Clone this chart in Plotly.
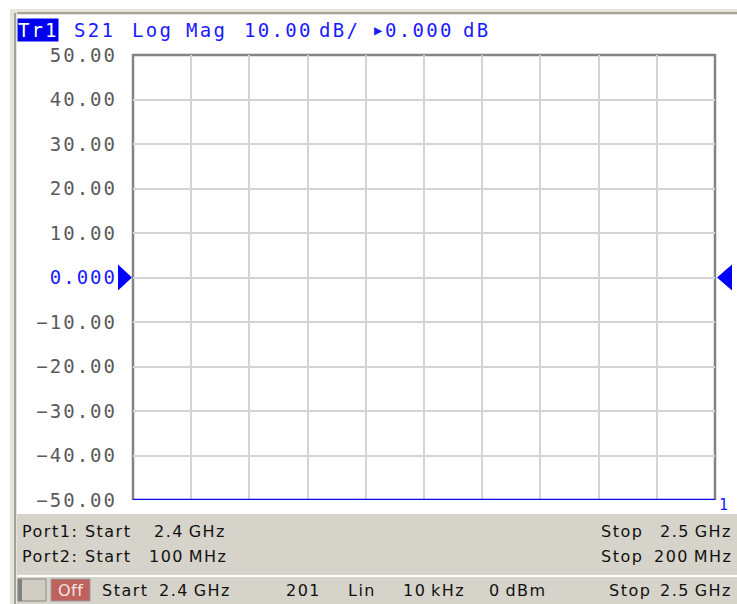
import plotly.graph_objects as go

# ---- measurement setup -------------------------------------------------
trace_name = "Tr1"
s_param = "S21"
fmt_name = "Log Mag"
scale_db_div = 10.00
ref_level_db = 0.000

start_ghz = 2.4
stop_ghz = 2.5
sweep_points = 201
sweep_type = "Lin"
ifbw = "10\u2009kHz"
power = "0\u2009dBm"

port1_start, port1_stop = "2.4\u2009GHz", "2.5\u2009GHz"
port2_start, port2_stop = "100\u2009MHz", "200\u2009MHz"

# trace: reading sits at the bottom of the display
trace_freq_ghz = [2.4, 2.5]
trace_db = [-50.0, -50.0]

y_tick_values = [50, 40, 30, 20, 10, 0, -10, -20, -30, -40, -50]
y_tick_labels = ["50.00", "40.00", "30.00", "20.00", "10.00", "0.000",
                 "\u221210.00", "\u221220.00", "\u221230.00", "\u221240.00",
                 "\u221250.00"]

# ---- page geometry -----------------------------------------------------
W, H = 737, 604
L, R, T, B = 133, 715, 55, 500   # plot area in page pixels

def px(x):
    return (x - L) / (R - L)

def py(y):
    return (B - y) / (B - T)

BLUE = "#1a1aff"
PANEL = "#d6d3cb"
GRID = "#d4d4d4"
BORDER = "#858585"
MONO = "DejaVu Sans Mono"
SANS = "DejaVu Sans"

def spaced(text, sp, color=None):
    style = f"letter-spacing:{sp}px"
    if color:
        style = f"color:{color};" + style
    return f'<span style="{style}">{text}</span>'

tick_text = [spaced(t, 2, BLUE if v == ref_level_db else None)
             for v, t in zip(y_tick_values, y_tick_labels)]

fig = go.Figure()
fig.add_trace(go.Scatter(
    x=trace_freq_ghz, y=trace_db, mode="lines",
    line=dict(color="#0a0af0", width=2.5), cliponaxis=False,
    hoverinfo="skip", showlegend=False,
))

shapes = []
# window frame (top and left)
shapes.append(dict(type="rect", xref="paper", yref="paper", layer="below",
                   x0=px(10), x1=px(737), y0=py(9), y1=py(15),
                   fillcolor="#e6e3dc", line=dict(width=0)))
shapes.append(dict(type="line", xref="paper", yref="paper", layer="below",
                   x0=px(15), x1=px(737), y0=py(13), y1=py(13),
                   line=dict(color="#a6a298", width=2)))
shapes.append(dict(type="rect", xref="paper", yref="paper", layer="below",
                   x0=px(10), x1=px(17), y0=py(9), y1=py(604),
                   fillcolor="#e6e3dc", line=dict(width=0)))
shapes.append(dict(type="line", xref="paper", yref="paper", layer="below",
                   x0=px(15), x1=px(15), y0=py(13), y1=py(604),
                   line=dict(color="#a6a298", width=2)))
# port info panel and status bar
shapes.append(dict(type="rect", xref="paper", yref="paper", layer="below",
                   x0=px(17), x1=px(737), y0=py(514), y1=py(575),
                   fillcolor=PANEL, line=dict(width=0)))
shapes.append(dict(type="rect", xref="paper", yref="paper", layer="below",
                   x0=px(17), x1=px(737), y0=py(577), y1=py(604),
                   fillcolor=PANEL, line=dict(width=0)))
# sunken indicator box
shapes.append(dict(type="rect", xref="paper", yref="paper",
                   x0=px(18), x1=px(46), y0=py(579), y1=py(601),
                   fillcolor="#d0ccc4", line=dict(color="#8a8780", width=1)))
shapes.append(dict(type="rect", xref="paper", yref="paper",
                   x0=px(18), x1=px(22), y0=py(579), y1=py(601),
                   fillcolor="#808080", line=dict(width=0)))
# "Off" state box
shapes.append(dict(type="rect", xref="paper", yref="paper",
                   x0=px(51), x1=px(90), y0=py(579), y1=py(601),
                   fillcolor="#bd625c", line=dict(color="#9a9a9a", width=1)))
# graticule border on left, top and right (trace forms the bottom edge)
shapes.append(dict(type="path", xref="paper", yref="paper",
                   path="M 0,0 L 0,1 L 1,1 L 1,0", layer="below",
                   line=dict(color=BORDER, width=2.5)))
# reference level arrows at both edges
shapes.append(dict(type="path", xref="paper", yref="y", xsizemode="pixel",
                   ysizemode="pixel", xanchor=0, yanchor=ref_level_db,
                   path="M -15,-13 L -1,0 L -15,13 Z",
                   fillcolor="#0000ff", line=dict(width=0)))
shapes.append(dict(type="path", xref="paper", yref="y", xsizemode="pixel",
                   ysizemode="pixel", xanchor=1, yanchor=ref_level_db,
                   path="M 17,-13 L 2,0 L 17,13 Z",
                   fillcolor="#0000ff", line=dict(width=0)))

ann = []

def text(x, y, s, size=16, color="#111111", family=SANS, anchor="left",
         sp=1.5, bg=None):
    ann.append(dict(x=px(x), y=py(y), xref="paper", yref="paper",
                    text=spaced(s, sp), showarrow=False, xanchor=anchor,
                    yanchor="middle", font=dict(size=size, color=color,
                                                family=family),
                    bgcolor=bg, borderpad=0))

# trace header line
ann.append(dict(x=px(17), y=py(30), xref="paper", yref="paper",
                text=spaced(trace_name, 2), showarrow=False, xanchor="left",
                yanchor="middle", bgcolor="#0000ee", borderpad=0,
                font=dict(size=19, color="white", family=MONO)))
header = [
    (73, s_param), (131, fmt_name.split()[0]), (185, fmt_name.split()[1]),
    (243, f"{scale_db_div:.2f}"), (318, "dB/"), (373, "\u25B6"),
    (384, f"{ref_level_db:.3f}"), (462, "dB"),
]
for x, s in header:
    size = 14 if s == "\u25B6" else 19
    text(x, 30, s, size=size, color=BLUE, family=MONO, sp=2.3)

# trace number at the end of the trace
ann.append(dict(x=trace_freq_ghz[-1], y=trace_db[-1], xref="x", yref="y",
                text="1", showarrow=False, xanchor="left", yanchor="top",
                xshift=2, yshift=6,
                font=dict(size=15, color=BLUE, family=MONO)))

# port frequency panel
text(21, 531, "Port1: Start")
text(153, 531, port1_start)
text(600, 531, "Stop")
text(733, 531, port1_stop, anchor="right")
text(21, 556, "Port2: Start")
text(148, 556, port2_start)
text(600, 556, "Stop")
text(733, 556, port2_stop, anchor="right")

# status bar
text(70.5, 590, "Off", color="#f4e4e2", anchor="center", sp=0.5)
text(101, 590, "Start")
text(158, 590, f"{start_ghz}\u2009GHz")
text(285, 590, str(sweep_points))
text(347, 590, sweep_type)
text(402, 590, ifbw)
text(488, 590, power)
text(608, 590, "Stop")
text(733, 590, f"{stop_ghz}\u2009GHz", anchor="right")

fig.update_layout(
    width=W, height=H,
    margin=dict(l=L, r=W - R, t=T, b=H - B, pad=0),
    paper_bgcolor="white", plot_bgcolor="white",
    shapes=shapes, annotations=ann, showlegend=False,
    xaxis=dict(range=[start_ghz, stop_ghz], dtick=(stop_ghz - start_ghz) / 10,
               tick0=start_ghz, showticklabels=False, ticks="",
               showgrid=True, gridcolor=GRID, gridwidth=2, zeroline=False,
               showline=False, layer="below traces"),
    yaxis=dict(range=[-50, 50], tickvals=y_tick_values, ticktext=tick_text,
               ticks="", showgrid=True, gridcolor=GRID, gridwidth=2,
               zeroline=False, showline=False, ticklabelstandoff=15,
               layer="below traces",
               tickfont=dict(family=MONO, size=19, color="#5a5a5a")),
)

fig.write_html("out.html")
